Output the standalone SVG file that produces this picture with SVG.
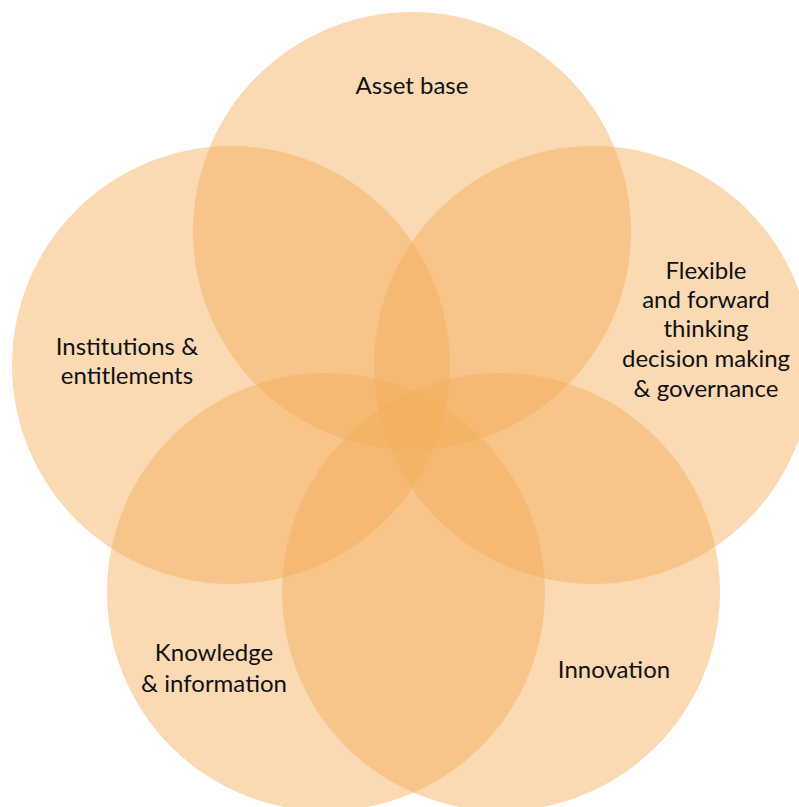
<svg xmlns="http://www.w3.org/2000/svg" width="799" height="807" viewBox="0 0 799 807">
<style>
.c{fill:#F4AC5A;fill-opacity:0.46}
.t{font-family:Lato,"Open Sans","Liberation Sans",sans-serif;font-size:24px;fill:#111;text-anchor:middle}
</style>
<rect width="799" height="807" fill="#fff"/>
<g id="asset"><circle class="c" cx="412" cy="231" r="219"/><text class="t" x="412" y="94">Asset base</text></g>
<g id="institutions"><circle class="c" cx="231" cy="365" r="219"/><text class="t" x="127" y="355">Institutions &amp;</text><text class="t" x="127" y="384">entitlements</text></g>
<g id="flexible"><circle class="c" cx="593" cy="365" r="219"/><text class="t" x="706" y="279">Flexible</text><text class="t" x="706" y="308">and forward</text><text class="t" x="706" y="337">thinking</text><text class="t" x="706" y="367">decision making</text><text class="t" x="706" y="397">&amp; governance</text></g>
<g id="knowledge"><circle class="c" cx="326" cy="592" r="219"/><text class="t" x="214" y="661">Knowledge</text><text class="t" x="214" y="692">&amp; information</text></g>
<g id="innovation"><circle class="c" cx="501" cy="592" r="219"/><text class="t" x="614" y="678">Innovation</text></g>
<g id="connectors"></g>
</svg>
